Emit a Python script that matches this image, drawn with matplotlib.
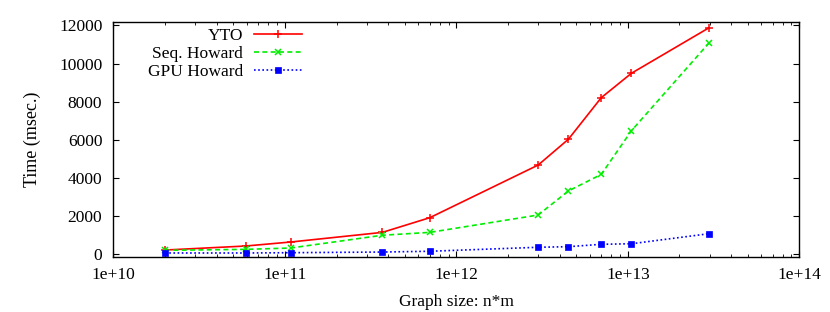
'''
Run time vs graph size, log x axis
'''

import numpy as np
import matplotlib
matplotlib.use('Agg')
import matplotlib.pyplot as plt
from matplotlib.ticker import FixedLocator, LogLocator, NullFormatter, FuncFormatter

FS = 12.5
plt.rcParams['font.family'] = ['Liberation Serif', 'DejaVu Serif']
plt.rcParams['font.size'] = FS

# graph sizes (n*m)
sizes = [2.0e10, 5.9e10, 1.08e11, 3.7e11, 7.0e11, 3.0e12, 4.5e12, 7.0e12, 1.05e13, 2.97e13]
# run times in msec
yto = [225, 435, 645, 1150, 1920, 4680, 6030, 8210, 9490, 11870]
seq_howard = [210, 260, 330, 1000, 1150, 2060, 3320, 4190, 6480, 11070]
gpu_howard = [70, 70, 85, 120, 160, 370, 400, 525, 555, 1080]

x_ticks = [1e10, 1e11, 1e12, 1e13, 1e14]
y_ticks = [0, 2000, 4000, 6000, 8000, 10000, 12000]

fig = plt.figure(figsize=(8.3, 3.12), dpi=100)
ax = fig.add_axes([0.1367, 0.1763, 0.963 - 0.1367, 0.9285 - 0.1763])

ax.plot(sizes, yto, color='#ff0000', ls='-', lw=1.2, marker='+', ms=6, mew=1.1, label='YTO')
ax.plot(sizes, seq_howard, color='#00ee00', ls=(0, (3, 2)), lw=1.2, marker='x', ms=4.5, mew=1.1, label='Seq. Howard')
ax.plot(sizes, gpu_howard, color='#0000ff', ls=(0, (1, 1.5)), lw=1.2, marker='s', ms=4, mew=0.5, label='GPU Howard')

ax.set_xscale('log')
ax.set_xlim(1e10, 1e14)
ax.set_ylim(-140, 12160)

ax.xaxis.set_major_locator(FixedLocator(x_ticks))
ax.xaxis.set_major_formatter(FuncFormatter(lambda v, p: '1e+%d' % round(np.log10(v))))
ax.xaxis.set_minor_locator(LogLocator(base=10, subs=np.arange(2, 10)))
ax.xaxis.set_minor_formatter(NullFormatter())
ax.set_yticks(y_ticks)

ax.tick_params(which='both', direction='in', top=True, right=True, labelsize=FS)
ax.tick_params(which='major', length=4, width=0.8)
ax.tick_params(which='minor', length=2.5, width=0.6)
ax.tick_params(axis='x', pad=7)
ax.tick_params(axis='y', pad=8)
for s in ax.spines.values():
    s.set_linewidth(1.0)

ax.set_xlabel('Graph size: n*m', fontsize=FS, labelpad=8)
ax.set_ylabel('Time (msec.)', fontsize=13, labelpad=13)

leg = ax.legend(loc='upper left', frameon=False, markerfirst=False, handlelength=2.76,
                handletextpad=0.63, labelspacing=0.1, borderaxespad=0.0, borderpad=0.0,
                bbox_to_anchor=(0.05, 0.975), fontsize=FS)
# right-align label text like gnuplot does
for col in leg._legend_handle_box.get_children():
    col.align = 'right'

fig.savefig('out.png', dpi=100)
